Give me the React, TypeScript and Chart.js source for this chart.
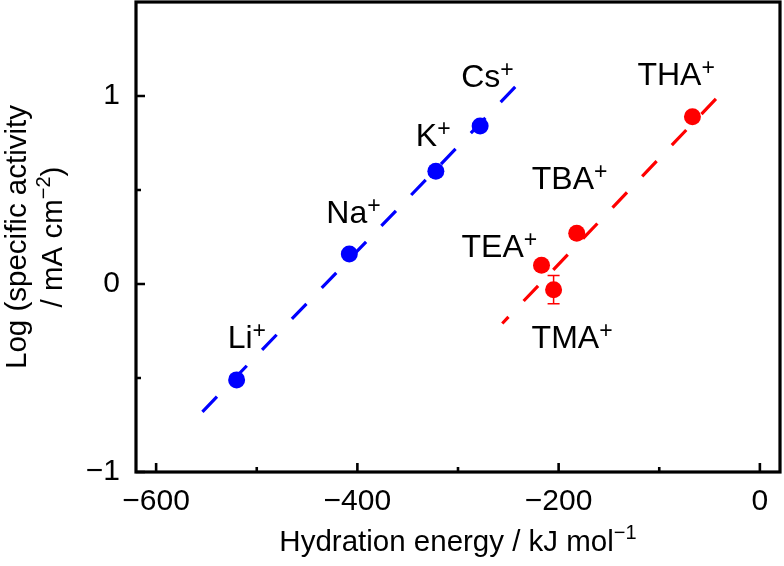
import React, { useEffect, useRef } from 'react';
import { Chart, registerables } from 'chart.js';

Chart.register(...registerables);

// ---------- data ----------
const xTickValues = [-600, -400, -200, 0];
const xMinorTicks = [-500, -300, -100];
const yTickValues = [-1, 0, 1];
const yMinorTicks = [-0.5, 0.5];

const alkaliNames = ['Li', 'Na', 'K', 'Cs'];
const alkaliEnergy = [-520, -408, -322, -278];
const alkaliActivity = [-0.51, 0.16, 0.6, 0.84];

const ammoniumNames = ['TMA', 'TEA', 'TBA', 'THA'];
const ammoniumEnergy = [-205, -217, -182, -67];
const ammoniumActivity = [-0.03, 0.1, 0.27, 0.89];
const ammoniumError = [0.075, 0, 0, 0];

const alkaliFitX = [-554, -241];
const alkaliFitY = [-0.68, 1.06];
const ammoniumFitX = [-256, -41];
const ammoniumFitY = [-0.21, 1.0];

const xTitle = 'Hydration energy / kJ mol';
const xTitleSup = '−1';
const yTitleLine1 = 'Log (specific activity';
const yTitleLine2a = '/ mA cm';
const yTitleLine2Sup = '−2';
const yTitleLine2b = ')';

// ---------- layout / style ----------
const BLUE = '#0000ff';
const RED = '#ff0000';
const FONT = '"Liberation Sans", Arial, Helvetica, sans-serif';
const TICK_FONT = 30;
const LABEL_FONT = 32;
const LABEL_SUP = 23;

// label offsets (left edge, baseline) relative to each point's pixel
const alkaliLabelOffsets = [
  [-9, -32],
  [-23, -31],
  [-20, -25],
  [-19, -39],
];
const ammoniumLabelOffsets = [
  [-22, 58],
  [-80, -8],
  [-45, -44],
  [-55, -32],
];

type Part = { t: string; s: number; r: number };

function drawRich(ctx: CanvasRenderingContext2D, parts: Part[], x: number, y: number, align: 'left' | 'center') {
  let total = 0;
  const widths = parts.map((p) => {
    ctx.font = `${p.s}px ${FONT}`;
    const w = ctx.measureText(p.t).width;
    total += w;
    return w;
  });
  let cx = align === 'center' ? x - total / 2 : x;
  ctx.textAlign = 'left';
  ctx.textBaseline = 'alphabetic';
  parts.forEach((p, i) => {
    ctx.font = `${p.s}px ${FONT}`;
    ctx.fillText(p.t, cx, y - p.r);
    cx += widths[i];
  });
}

const fmt = (v: number) => (v < 0 ? '−' + Math.abs(v) : String(v));

const zeroPad = (s: any) => {
  s.paddingTop = 0;
  s.paddingBottom = 0;
  s.paddingLeft = 0;
  s.paddingRight = 0;
};

const decorPlugin = {
  id: 'decor',
  beforeDatasetsDraw(chart: any) {
    const ctx = chart.ctx as CanvasRenderingContext2D;
    const xs = chart.scales.x;
    const ys = chart.scales.y;
    ctx.save();
    ctx.strokeStyle = RED;
    ctx.lineWidth = 1.5;
    ammoniumEnergy.forEach((e, i) => {
      const err = ammoniumError[i];
      if (!err) return;
      const px = xs.getPixelForValue(e);
      const top = ys.getPixelForValue(ammoniumActivity[i] + err);
      const bot = ys.getPixelForValue(ammoniumActivity[i] - err);
      ctx.beginPath();
      ctx.moveTo(px, top);
      ctx.lineTo(px, bot);
      ctx.moveTo(px - 6, top);
      ctx.lineTo(px + 6, top);
      ctx.moveTo(px - 6, bot);
      ctx.lineTo(px + 6, bot);
      ctx.stroke();
    });
    ctx.restore();
  },
  afterDraw(chart: any) {
    const ctx = chart.ctx as CanvasRenderingContext2D;
    const a = chart.chartArea;
    const xs = chart.scales.x;
    const ys = chart.scales.y;
    ctx.save();
    // inward ticks
    ctx.strokeStyle = '#000';
    ctx.lineWidth = 2.6;
    ctx.beginPath();
    xTickValues.forEach((v) => {
      const p = xs.getPixelForValue(v);
      ctx.moveTo(p, a.bottom);
      ctx.lineTo(p, a.bottom - 9);
    });
    xMinorTicks.forEach((v) => {
      const p = xs.getPixelForValue(v);
      ctx.moveTo(p, a.bottom);
      ctx.lineTo(p, a.bottom - 5);
    });
    yTickValues.forEach((v) => {
      const p = ys.getPixelForValue(v);
      ctx.moveTo(a.left, p);
      ctx.lineTo(a.left + 9, p);
    });
    yMinorTicks.forEach((v) => {
      const p = ys.getPixelForValue(v);
      ctx.moveTo(a.left, p);
      ctx.lineTo(a.left + 5, p);
    });
    ctx.stroke();
    // frame
    ctx.lineWidth = 3.2;
    ctx.strokeRect(a.left, a.top, a.right - a.left, a.bottom - a.top);

    ctx.fillStyle = '#000';
    // x title
    drawRich(
      ctx,
      [
        { t: xTitle, s: 29.5, r: 0 },
        { t: xTitleSup, s: 20, r: 12 },
      ],
      (a.left + a.right) / 2,
      551,
      'center'
    );
    // y title
    const cy = (a.top + a.bottom) / 2;
    ctx.save();
    ctx.translate(26, cy);
    ctx.rotate(-Math.PI / 2);
    drawRich(ctx, [{ t: yTitleLine1, s: 29.5, r: 0 }], 0, 0, 'center');
    ctx.restore();
    ctx.save();
    ctx.translate(62, cy);
    ctx.rotate(-Math.PI / 2);
    drawRich(
      ctx,
      [
        { t: yTitleLine2a, s: 29.5, r: 0 },
        { t: yTitleLine2Sup, s: 20, r: 12 },
        { t: yTitleLine2b, s: 29.5, r: 0 },
      ],
      0,
      0,
      'center'
    );
    ctx.restore();

    // ion labels
    alkaliNames.forEach((n, i) => {
      const px = xs.getPixelForValue(alkaliEnergy[i]);
      const py = ys.getPixelForValue(alkaliActivity[i]);
      const [dx, dy] = alkaliLabelOffsets[i];
      drawRich(
        ctx,
        [
          { t: n, s: LABEL_FONT, r: 0 },
          { t: '+', s: LABEL_SUP, r: 10 },
        ],
        px + dx,
        py + dy,
        'left'
      );
    });
    ammoniumNames.forEach((n, i) => {
      const px = xs.getPixelForValue(ammoniumEnergy[i]);
      const py = ys.getPixelForValue(ammoniumActivity[i]);
      const [dx, dy] = ammoniumLabelOffsets[i];
      drawRich(
        ctx,
        [
          { t: n, s: LABEL_FONT, r: 0 },
          { t: '+', s: LABEL_SUP, r: 10 },
        ],
        px + dx,
        py + dy,
        'left'
      );
    });
    ctx.restore();
  },
};

export default function App() {
  const ref = useRef<HTMLCanvasElement>(null);
  useEffect(() => {
    if (!ref.current) return;
    const chart = new Chart(ref.current, {
      type: 'scatter',
      data: {
        datasets: [
          {
            label: 'alkali',
            data: alkaliEnergy.map((x, i) => ({ x, y: alkaliActivity[i] })),
            backgroundColor: BLUE,
            borderColor: BLUE,
            pointRadius: 8.5,
            pointBorderWidth: 0,
          },
          {
            label: 'ammonium',
            data: ammoniumEnergy.map((x, i) => ({ x, y: ammoniumActivity[i] })),
            backgroundColor: RED,
            borderColor: RED,
            pointRadius: 8.5,
            pointBorderWidth: 0,
          },
          {
            label: 'alkali fit',
            data: alkaliFitX.map((x, i) => ({ x, y: alkaliFitY[i] })),
            showLine: true,
            borderColor: BLUE,
            borderWidth: 3.2,
            borderDash: [21, 22],
            pointRadius: 0,
            fill: false,
          },
          {
            label: 'ammonium fit',
            data: ammoniumFitX.map((x, i) => ({ x, y: ammoniumFitY[i] })),
            showLine: true,
            borderColor: RED,
            borderWidth: 3.2,
            borderDash: [21, 22],
            borderDashOffset: 12,
            pointRadius: 0,
            fill: false,
          },
        ] as any,
      },
      options: {
        animation: false,
        responsive: false,
        devicePixelRatio: 1,
        layout: { autoPadding: false, padding: { top: 2, right: 4, left: 0, bottom: 0 } },
        plugins: { legend: { display: false }, tooltip: { enabled: false } },
        scales: {
          x: {
            type: 'linear',
            min: -620,
            max: 20,
            grid: { display: false, drawTicks: false },
            border: { display: false },
            afterBuildTicks: (s: any) => {
              s.ticks = xTickValues.map((v) => ({ value: v }));
            },
            afterFit: (s: any) => {
              s.height = 94;
              zeroPad(s);
            },
            ticks: {
              color: '#000',
              font: { size: TICK_FONT, family: FONT },
              padding: 12,
              maxRotation: 0,
              autoSkip: false,
              callback: (v: any) => fmt(Number(v)),
            },
          },
          y: {
            type: 'linear',
            min: -1,
            max: 1.5,
            grid: { display: false, drawTicks: false },
            border: { display: false },
            afterBuildTicks: (s: any) => {
              s.ticks = yTickValues.map((v) => ({ value: v }));
            },
            afterFit: (s: any) => {
              s.width = 136;
              zeroPad(s);
            },
            ticks: {
              color: '#000',
              font: { size: TICK_FONT, family: FONT },
              padding: 16,
              autoSkip: false,
              callback: (v: any) => fmt(Number(v)),
            },
          },
        },
      } as any,
      plugins: [decorPlugin],
    });
    return () => chart.destroy();
  }, []);
  return (
    <div style={{ position: 'absolute', left: 0, top: 0, width: 784, height: 566, background: '#fff' }}>
      <canvas ref={ref} width={784} height={566} style={{ width: 784, height: 566, display: 'block' }} />
    </div>
  );
}
